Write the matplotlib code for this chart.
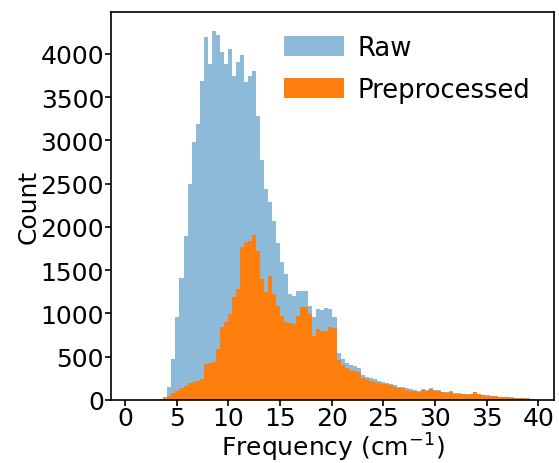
import numpy as np
import matplotlib.pyplot as plt

# Histogram bin edges (100 bins over the frequency range)
edges = np.linspace(0.6, 39.55, 101)

# Counts per bin, raw spectra
raw_counts = [
    0, 0, 0, 0, 0, 0, 0, 10, 35, 150,
    470, 960, 1410, 1900, 2500, 2980, 3190, 3690, 4200, 3880,
    4270, 4220, 4020, 3880, 4060, 3750, 3910, 3990, 3680, 3750,
    3800, 3280, 2770, 2440, 2285, 2070, 1820, 1590, 1455, 1225,
    1205, 1265, 1265, 1265, 1090, 960, 1050, 1040, 1060, 1050,
    960, 540, 470, 430, 410, 390, 365, 285, 270, 255,
    245, 225, 210, 200, 185, 170, 155, 150, 135, 128,
    120, 108, 130, 118, 140, 110, 115, 97, 95, 100,
    80, 80, 72, 68, 70, 95, 75, 60, 52, 50,
    45, 40, 38, 32, 30, 28, 25, 22, 18, 15,
]

# Counts per bin, preprocessed spectra
pre_counts = [
    0, 0, 0, 0, 0, 0, 0, 0, 20, 50,
    77, 108, 135, 166, 193, 208, 224, 243, 420, 430,
    440, 590, 840, 898, 994, 1187, 1283, 1765, 1823, 1842,
    1907, 1726, 1400, 1245, 1437, 1225, 1090, 975, 898, 890,
    878, 975, 1070, 1070, 994, 743, 820, 800, 800, 840,
    830, 460, 400, 370, 350, 335, 320, 255, 245, 215,
    205, 200, 190, 180, 172, 150, 140, 135, 115, 108,
    105, 96, 118, 106, 128, 100, 104, 88, 86, 92,
    72, 73, 66, 62, 64, 88, 68, 55, 47, 45,
    41, 36, 34, 29, 27, 25, 22, 20, 16, 13,
]

centers = (edges[:-1] + edges[1:]) / 2

fig = plt.figure(figsize=(5.59, 4.64), dpi=100)
ax = fig.add_axes([0.1986, 0.1358, 0.7924, 0.8362])

ax.hist(centers, bins=edges, weights=raw_counts, color='tab:blue', alpha=0.5, label='Raw')
ax.hist(centers, bins=edges, weights=pre_counts, color='tab:orange', label='Preprocessed')

ax.set_xlim(-1.35, 41.5)
ax.set_ylim(0, 4485)
ax.set_xticks(np.arange(0, 41, 5))
ax.set_yticks(np.arange(0, 4001, 500))
ax.tick_params(labelsize=18, width=1.2, length=4, pad=1)
ax.tick_params(axis='x', pad=0)
for s in ax.spines.values():
    s.set_linewidth(1.2)

ax.set_xlabel('Frequency (cm$^{-1}$)', fontsize=18, labelpad=1)
ax.set_ylabel('Count', fontsize=18, labelpad=0)

ax.legend(loc='upper right', fontsize=18.6, frameon=False,
          handlelength=2.3, handleheight=0.8, labelspacing=0.62,
          handletextpad=0.55)

plt.savefig('out.png', dpi=100)
